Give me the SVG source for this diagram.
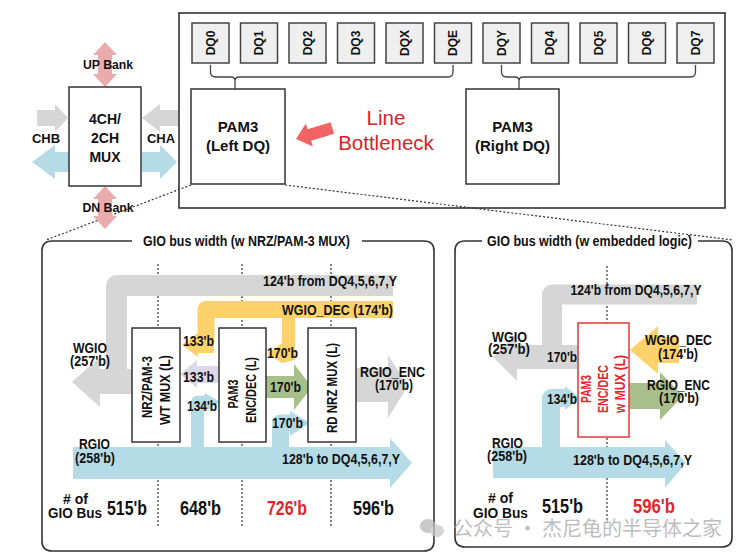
<svg xmlns="http://www.w3.org/2000/svg" width="746" height="559" viewBox="0 0 746 559">
<style>
.b{font-family:"Liberation Sans",Arial,sans-serif;font-weight:bold;fill:#111}
.n{font-family:"Liberation Sans",Arial,sans-serif;font-weight:bold;fill:#111;font-size:14px}
.c{text-anchor:middle}
.big{font-size:21px}
.rt{fill:#e0262c}
.dq{fill:#efefef;stroke:#444;stroke-width:1.5}
.box{fill:#fff;stroke:#333;stroke-width:1.5}
.frame{fill:none;stroke:#333;stroke-width:1.6}
.dot{fill:none;stroke:#333;stroke-width:1.2;stroke-dasharray:2 2}
.brace{fill:none;stroke:#444;stroke-width:1.3}
.gray{fill:#d6d6d6}
.grays{fill:none;stroke:#d6d6d6}
.yel{fill:#fdd26a}
.yels{fill:none;stroke:#fdd26a}
.blu{fill:#b5dce6}
.blus{fill:none;stroke:#b5dce6}
.grn{fill:#a9bf8b}
.lav{fill:#dcd8ea}
.pink{fill:#e9abab}
</style>

<g id="chip">
<rect x="179" y="13" width="546" height="195" class="frame"/>
</g>

<g id="dq-pads">
<rect class="dq" x="192" y="23" width="37" height="40"/><text class="b" font-size="12" text-anchor="middle" dy="4.3" transform="translate(210.5,43) rotate(-90)">DQ0</text>
<rect class="dq" x="240.5" y="23" width="37" height="40"/><text class="b" font-size="12" text-anchor="middle" dy="4.3" transform="translate(259,43) rotate(-90)">DQ1</text>
<rect class="dq" x="289" y="23" width="37" height="40"/><text class="b" font-size="12" text-anchor="middle" dy="4.3" transform="translate(307.5,43) rotate(-90)">DQ2</text>
<rect class="dq" x="337.5" y="23" width="37" height="40"/><text class="b" font-size="12" text-anchor="middle" dy="4.3" transform="translate(356,43) rotate(-90)">DQ3</text>
<rect class="dq" x="386" y="23" width="37" height="40"/><text class="b" font-size="12" text-anchor="middle" dy="4.3" transform="translate(404.5,43) rotate(-90)">DQX</text>
<rect class="dq" x="434.5" y="23" width="37" height="40"/><text class="b" font-size="12" text-anchor="middle" dy="4.3" transform="translate(453,43) rotate(-90)">DQE</text>
<rect class="dq" x="483" y="23" width="37" height="40"/><text class="b" font-size="12" text-anchor="middle" dy="4.3" transform="translate(501.5,43) rotate(-90)">DQY</text>
<rect class="dq" x="531.5" y="23" width="37" height="40"/><text class="b" font-size="12" text-anchor="middle" dy="4.3" transform="translate(550,43) rotate(-90)">DQ4</text>
<rect class="dq" x="580" y="23" width="37" height="40"/><text class="b" font-size="12" text-anchor="middle" dy="4.3" transform="translate(598.5,43) rotate(-90)">DQ5</text>
<rect class="dq" x="628.5" y="23" width="37" height="40"/><text class="b" font-size="12" text-anchor="middle" dy="4.3" transform="translate(647,43) rotate(-90)">DQ6</text>
<rect class="dq" x="677" y="23" width="37" height="40"/><text class="b" font-size="12" text-anchor="middle" dy="4.3" transform="translate(695.5,43) rotate(-90)">DQ7</text>
</g>

<g id="connectors">
<path class="brace" d="M210.5,65 V72 Q210.5,77 215.5,77 H231 Q235,77 235,81 V89 M235,81 Q235,77 239,77 H448 Q453,77 453,72 V65"/>
<path class="brace" d="M501.5,65 V72 Q501.5,77 506.5,77 H515 Q519,77 519,81 V89 M519,81 Q519,77 523,77 H690.5 Q695.5,77 695.5,72 V65"/>
<line class="dot" x1="191" y1="185" x2="46" y2="240"/>
<line class="dot" x1="285" y1="185" x2="733" y2="240"/>
<polygon fill="#f26464" transform="translate(296,139) rotate(-17)" points="0,0 14,-12 14,-6 38,-6 38,6 14,6 14,12"/>
<polygon class="pink" points="105,42 117,55 112,55 112,74 117,74 105,87 93,74 98,74 98,55 93,55"/>
<polygon class="pink" points="105,186 117,199 112,199 112,216 117,216 105,229 93,216 98,216 98,199 93,199"/>
<polygon class="gray" points="37,110 55,110 55,104 68,118 55,132 55,126 37,126"/>
<polygon class="blu" points="32,162 55,145 55,152 69,152 69,172 55,172 55,179"/>
<polygon class="gray" points="178,110 160,110 160,104 142,118 160,132 160,126 178,126"/>
<polygon class="blu" points="177,162 160,145 160,152 142,152 142,172 160,172 160,179"/>
</g>

<g id="mux">
<rect class="box" x="69" y="87" width="72" height="99"/>
<text class="b" font-size="14" text-anchor="middle"><tspan x="105" y="124">4CH/</tspan><tspan x="105" y="143">2CH</tspan><tspan x="105" y="162">MUX</tspan></text>
<text class="b" font-size="12.5" text-anchor="middle" x="108" y="69" textLength="50" lengthAdjust="spacingAndGlyphs">UP Bank</text>
<text class="b" font-size="12.5" text-anchor="middle" x="108" y="212" textLength="51" lengthAdjust="spacingAndGlyphs">DN Bank</text>
<text class="b" font-size="13" text-anchor="middle" x="46" y="143">CHB</text>
<text class="b" font-size="13" text-anchor="middle" x="161" y="143">CHA</text>
</g>

<g id="pam3-left">
<rect class="box" x="191" y="89" width="94" height="95"/>
<text class="b" font-size="15" text-anchor="middle"><tspan x="238" y="132">PAM3</tspan><tspan x="238" y="151">(Left DQ)</tspan></text>
</g>
<g id="pam3-right">
<rect class="box" x="466" y="89" width="93" height="95"/>
<text class="b" font-size="15" text-anchor="middle"><tspan x="512.5" y="132">PAM3</tspan><tspan x="512.5" y="151">(Right DQ)</tspan></text>
</g>
<g id="bottleneck-label">
<text font-family="Liberation Sans,Arial,sans-serif" font-size="20.5" fill="#d92229" text-anchor="middle"><tspan x="386" y="125">Line</tspan><tspan x="386" y="150">Bottleneck</tspan></text>
</g>

<g id="panel-left">
<path class="frame" d="M132,241 H52 Q42,241 42,251 V541 Q42,551 52,551 H424 Q434,551 434,541 V251 Q434,241 424,241 H362"/>
<text class="n c" x="246.5" y="246" textLength="207" lengthAdjust="spacingAndGlyphs">GIO bus width (w NRZ/PAM-3 MUX)</text>
<line class="dot" x1="158" y1="264" x2="158" y2="527"/>
<line class="dot" x1="242" y1="264" x2="242" y2="527"/>
<line class="dot" x1="331" y1="264" x2="331" y2="527"/>
</g>

<g id="flows-left">
<polyline class="grays" stroke-width="21" stroke-linejoin="round" points="393,285.5 116.5,285.5 116.5,380"/>
<polygon class="gray" points="133,369 100,369 100,357 72,382 100,407 100,394 133,394"/>
<polyline class="yels" stroke-width="17" stroke-linejoin="round" points="393,309.5 206,309.5 206,344"/>
<polygon class="yel" points="214,336 198,336 198,333 182,345 198,357 198,353 214,353"/>
<rect class="yel" x="282" y="309" width="13" height="44"/>
<polygon class="yel" points="295,345 282,345 282,343 267,354 282,363 295,360"/>
<polygon class="lav" points="220,366 197,366 197,360 180,374 197,388 197,383 220,383"/>
<polygon class="blu" points="73,447 390,447 390,438 412,463 390,488 390,479 73,479"/>
<polyline class="blus" stroke-width="13" stroke-linejoin="round" points="197.5,448 197.5,402 206,402"/>
<polygon class="blu" points="205,393 220,402 205,412"/>
<polyline class="blus" stroke-width="17" stroke-linejoin="round" points="280.5,448 280.5,423 292,423"/>
<polygon class="blu" points="290,411 310,423 290,436"/>
<polygon class="grn" points="266,376 294,376 294,364 312,387 294,410 294,398 266,398"/>
<polygon class="gray" points="356,368 388,368 388,355 408,386 388,418 388,402 356,402"/>
</g>

<g id="boxes-left">
<g id="wt-mux"><rect class="box" x="132" y="328" width="48" height="114"/>
<text class="n c" font-size="15" dy="5" transform="translate(147,387) rotate(-90)" textLength="62" lengthAdjust="spacingAndGlyphs">NRZ/PAM-3</text>
<text class="n c" font-size="15" dy="5" transform="translate(165,390) rotate(-90)" textLength="70" lengthAdjust="spacingAndGlyphs">WT MUX (L)</text></g>
<g id="encdec"><rect class="box" x="219" y="328" width="47" height="114"/>
<text class="n c" font-size="15" dy="5" transform="translate(233,394) rotate(-90)" textLength="29" lengthAdjust="spacingAndGlyphs">PAM3</text>
<text class="n c" font-size="15" dy="5" transform="translate(251,390) rotate(-90)" textLength="66" lengthAdjust="spacingAndGlyphs">ENC/DEC (L)</text></g>
<g id="rd-mux"><rect class="box" x="308" y="328" width="48" height="114"/>
<text class="n c" font-size="15" dy="5" transform="translate(332,388) rotate(-90)" textLength="90" lengthAdjust="spacingAndGlyphs">RD NRZ MUX (L)</text></g>
</g>

<g id="labels-left">
<text class="n c" x="330" y="286" textLength="134" lengthAdjust="spacingAndGlyphs">124'b from DQ4,5,6,7,Y</text>
<text class="n c" x="337.5" y="315" textLength="111" lengthAdjust="spacingAndGlyphs">WGIO_DEC (174'b)</text>
<text class="n c" x="90" y="353" textLength="34" lengthAdjust="spacingAndGlyphs">WGIO</text>
<text class="n c" x="90" y="366" textLength="40" lengthAdjust="spacingAndGlyphs">(257'b)</text>
<text class="n" x="183" y="346" textLength="31" lengthAdjust="spacingAndGlyphs">133'b</text>
<text class="n" x="183" y="382" textLength="31" lengthAdjust="spacingAndGlyphs">133'b</text>
<text class="n" x="187" y="411" textLength="30" lengthAdjust="spacingAndGlyphs">134'b</text>
<text class="n" x="267" y="358" textLength="31" lengthAdjust="spacingAndGlyphs">170'b</text>
<text class="n" x="270" y="392" textLength="31" lengthAdjust="spacingAndGlyphs">170'b</text>
<text class="n" x="272" y="428" textLength="31" lengthAdjust="spacingAndGlyphs">170'b</text>
<text class="n c" x="392.5" y="377" textLength="65" lengthAdjust="spacingAndGlyphs">RGIO_ENC</text>
<text class="n c" x="394" y="390" textLength="38" lengthAdjust="spacingAndGlyphs">(170'b)</text>
<text class="n c" x="94.5" y="449" textLength="31" lengthAdjust="spacingAndGlyphs">RGIO</text>
<text class="n c" x="95" y="463" textLength="40" lengthAdjust="spacingAndGlyphs">(258'b)</text>
<text class="n c" x="341" y="464" textLength="118" lengthAdjust="spacingAndGlyphs">128'b to DQ4,5,6,7,Y</text>
<text class="n c" x="75.5" y="504" textLength="25" lengthAdjust="spacingAndGlyphs"># of</text>
<text class="n c" x="75" y="518" textLength="54" lengthAdjust="spacingAndGlyphs">GIO Bus</text>
<text class="n c big" x="127" y="515" textLength="40" lengthAdjust="spacingAndGlyphs">515'b</text>
<text class="n c big" x="200.5" y="515" textLength="41" lengthAdjust="spacingAndGlyphs">648'b</text>
<text class="n c big rt" x="287" y="515" textLength="40" lengthAdjust="spacingAndGlyphs">726'b</text>
<text class="n c big" x="373.5" y="515" textLength="41" lengthAdjust="spacingAndGlyphs">596'b</text>
</g>

<g id="panel-right">
<path class="frame" d="M482,241 H465 Q455,241 455,251 V537 Q455,547 465,547 H722 Q732,547 732,537 V251 Q732,241 722,241 H698"/>
<text class="n c" x="589.5" y="246" textLength="205" lengthAdjust="spacingAndGlyphs">GIO bus width (w embedded logic)</text>
<line class="dot" x1="607" y1="266" x2="607" y2="523"/>
</g>

<g id="flows-right">
<polyline class="grays" stroke-width="20" stroke-linejoin="round" points="697,294.5 552,294.5 552,356"/>
<polygon class="gray" points="579,345 517,345 517,333 493,357 517,381 517,369 579,369"/>
<polygon class="yel" points="679,337 658,337 658,326 630,350 658,374 658,363 679,363"/>
<polygon class="grn" points="629,383 660,383 660,372 683,396 660,420 660,409 629,409"/>
<polygon class="blu" points="493,447 665,447 665,440 686,463 665,488 665,478 493,478"/>
<polyline class="blus" stroke-width="18" stroke-linejoin="round" points="551,448 551,398 566,398"/>
<polygon class="blu" points="565,386 580,398 565,410"/>
</g>

<g id="encdec-mux-right">
<rect x="578" y="323" width="51" height="114" fill="#fff" stroke="#e8343a" stroke-width="1.5"/>
<text class="n c rt" font-size="15" dy="5" transform="translate(586,389) rotate(-90)" textLength="28" lengthAdjust="spacingAndGlyphs">PAM3</text>
<text class="n c rt" font-size="15" dy="5" transform="translate(603,389) rotate(-90)" textLength="48" lengthAdjust="spacingAndGlyphs">ENC/DEC</text>
<text class="n c rt" font-size="15" dy="5" transform="translate(620,384) rotate(-90)" textLength="58" lengthAdjust="spacingAndGlyphs">w MUX (L)</text>
</g>

<g id="labels-right">
<text class="n c" x="636" y="295" textLength="131" lengthAdjust="spacingAndGlyphs">124'b from DQ4,5,6,7,Y</text>
<text class="n c" x="509.5" y="342" textLength="35" lengthAdjust="spacingAndGlyphs">WGIO</text>
<text class="n c" x="509" y="354" textLength="42" lengthAdjust="spacingAndGlyphs">(257'b)</text>
<text class="n" x="547" y="362" textLength="30" lengthAdjust="spacingAndGlyphs">170'b</text>
<text class="n" x="547" y="404" textLength="30" lengthAdjust="spacingAndGlyphs">134'b</text>
<text class="n c" x="678.5" y="345" textLength="67" lengthAdjust="spacingAndGlyphs">WGIO_DEC</text>
<text class="n c" x="678" y="359" textLength="40" lengthAdjust="spacingAndGlyphs">(174'b)</text>
<text class="n c" x="678.5" y="390" textLength="63" lengthAdjust="spacingAndGlyphs">RGIO_ENC</text>
<text class="n c" x="679" y="403" textLength="40" lengthAdjust="spacingAndGlyphs">(170'b)</text>
<text class="n c" x="507.5" y="448" textLength="31" lengthAdjust="spacingAndGlyphs">RGIO</text>
<text class="n c" x="507" y="461" textLength="40" lengthAdjust="spacingAndGlyphs">(258'b)</text>
<text class="n c" x="632.5" y="465" textLength="119" lengthAdjust="spacingAndGlyphs">128'b to DQ4,5,6,7,Y</text>
<text class="n c" x="500.5" y="503" textLength="25" lengthAdjust="spacingAndGlyphs"># of</text>
<text class="n c" x="500.5" y="518" textLength="55" lengthAdjust="spacingAndGlyphs">GIO Bus</text>
<text class="n c big" x="562.5" y="513" textLength="41" lengthAdjust="spacingAndGlyphs">515'b</text>
<text class="n c big rt" x="654" y="513" textLength="42" lengthAdjust="spacingAndGlyphs">596'b</text>
</g>

<g id="watermark" opacity="0.75">
<ellipse cx="428" cy="526" rx="8" ry="7" fill="#b8b8b8"/>
<ellipse cx="437" cy="531" rx="7" ry="6" fill="#c8c8c8"/>
<text font-family="Noto Sans CJK SC,sans-serif" font-size="20" fill="#a8a8a8" x="453" y="536" textLength="269" lengthAdjust="spacingAndGlyphs">公众号 · 杰尼龟的半导体之家</text>
</g>
</svg>
